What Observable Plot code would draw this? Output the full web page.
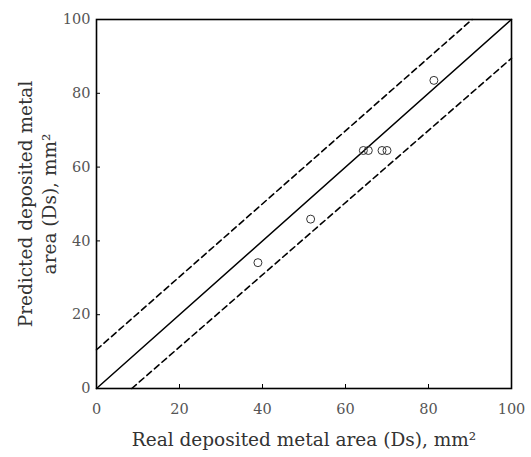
<!DOCTYPE html>
<html>
<head>
<meta charset="utf-8">
<script src="https://cdn.jsdelivr.net/npm/d3@7"></script>
<script src="https://cdn.jsdelivr.net/npm/@observablehq/plot@0.6"></script>
<style>
  html, body { margin: 0; padding: 0; background: #fff; }
</style>
</head>
<body>
<div id="chart"></div>
<script>
// Measured points
const realDs = [38.9, 51.6, 64.3, 65.5, 68.8, 70.0, 81.3];
const predDs = [34.1, 45.9, 64.5, 64.5, 64.5, 64.5, 83.5];

// Reference lines (endpoints)
const idealX = [0, 100];
const idealY = [0, 100];
const upperX = [0, 90.5];
const upperY = [10.5, 100];
const lowerX = [8.5, 100];
const lowerY = [0, 89.5];

const xTicks = [0, 20, 40, 60, 80, 100];
const yTicks = [0, 20, 40, 60, 80, 100];

const xTitle = "Real deposited metal area (Ds), mm²";
const yTitle = "Predicted deposited metal\narea (Ds), mm²";

const pts = realDs.map((x, i) => ({x, y: predDs[i]}));
const toLine = (xs, ys) => xs.map((x, i) => ({x, y: ys[i]}));

const chart = Plot.plot({
  width: 531,
  height: 457,
  marginLeft: 96,
  marginRight: 20,
  marginTop: 19,
  marginBottom: 69,
  style: {fontFamily: "'DejaVu Serif', serif", fontSize: "14.5px", color: "#000", background: "#fff"},
  x: {domain: [0, 100]},
  y: {domain: [0, 100]},
  marks: [
    Plot.line(toLine(idealX, idealY), {x: "x", y: "y", stroke: "#000", strokeWidth: 1.5}),
    Plot.line(toLine(upperX, upperY), {x: "x", y: "y", stroke: "#000", strokeWidth: 1.6, strokeDasharray: "6,4"}),
    Plot.line(toLine(lowerX, lowerY), {x: "x", y: "y", stroke: "#000", strokeWidth: 1.6, strokeDasharray: "6,4"}),
    Plot.dot(pts, {x: "x", y: "y", r: 4, stroke: "#333", strokeWidth: 1, fill: "none"}),
    Plot.axisX({ticks: xTicks, tickSize: -4, tickPadding: 19, label: null, fontSize: 14.5, color: "#555", stroke: "#000"}),
    Plot.axisY({ticks: yTicks, tickSize: -4, tickPadding: 10, label: null, fontSize: 14.5, color: "#555", stroke: "#000"}),
    Plot.frame({stroke: "#000", strokeWidth: 1.6}),
    Plot.text([xTitle], {frameAnchor: "bottom", dy: 52, text: d => d, fontSize: 18.5, fill: "#333", lineAnchor: "middle", textAnchor: "middle"}),
    Plot.text([yTitle], {frameAnchor: "left", dx: -60, text: d => d, fontSize: 18.5, fill: "#333", rotate: -90, lineAnchor: "middle", textAnchor: "middle", lineHeight: 1.3})
  ]
});
document.getElementById("chart").appendChild(chart);
</script>
</body>
</html>
